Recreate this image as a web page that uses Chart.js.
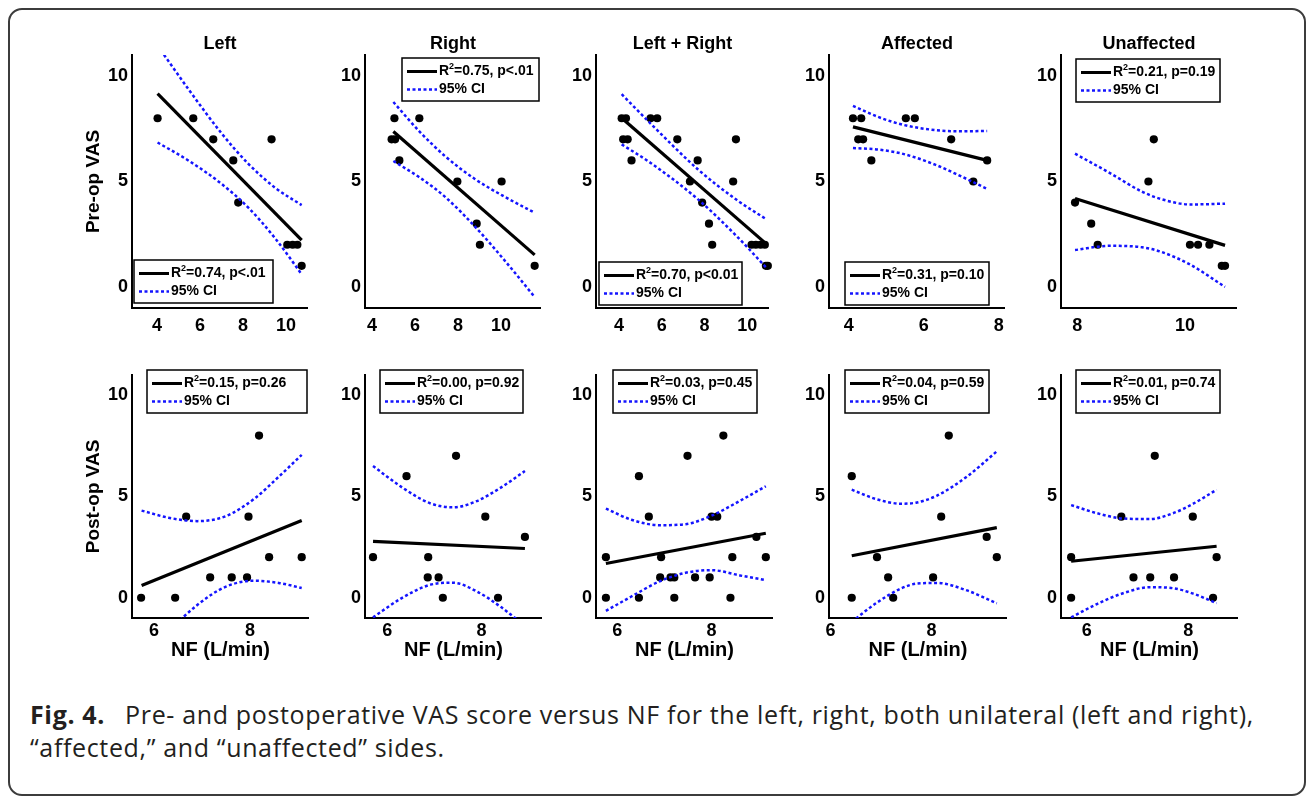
<!DOCTYPE html>
<html>
<head>
<meta charset="utf-8">
<title>Fig. 4 - VAS versus NF</title>
<script src="https://cdn.jsdelivr.net/npm/chart.js@4.4.1/dist/chart.umd.min.js"></script>
<style>
  html, body { margin: 0; padding: 0; background: #fff; }
  body { position: relative; width: 1309px; height: 798px; overflow: hidden; }
  .frame {
    position: absolute; left: 8px; top: 8px; width: 1298px; height: 788px;
    border: 2px solid #3c3c3c; border-radius: 14px; box-sizing: border-box;
  }
  canvas { position: absolute; }
  .caption {
    position: absolute; left: 30px; top: 698px; margin: 0;
    font-family: "Open Sans", "Noto Sans", sans-serif; font-size: 25px; line-height: 33px;
    letter-spacing: 0.65px; color: #231f20; white-space: nowrap;
  }
  .caption b { font-weight: 700; margin-right: 20px; }
</style>
</head>
<body>
<div class="frame"></div>
<div id="panels"></div>
<p class="caption"><b>Fig. 4.</b>Pre- and postoperative VAS score versus NF for the left, right, both unilateral (left and right),<br>“affected,” and “unaffected” sides.</p>

<script>
// ---- data ----
const groups = ['Left', 'Right', 'Left + Right', 'Affected', 'Unaffected'];
const vasTicks = [0, 5, 10];
const vasRange = [-1, 11];

// pre-op
const preLeftNF = [4.03, 5.69, 6.62, 7.55, 7.78, 9.33, 10.06, 10.31, 10.53, 10.73];
const preLeftVAS = [8, 8, 7, 6, 4, 7, 2, 2, 2, 1];
const preLeftCurveNF = [4.03, 5.5, 7, 8.25, 9.5, 10.73];
const preLeftFit = [9.17, 2.22];
const preLeftCiHi = [11.44, 9.33, 7.29, 5.84, 4.70, 3.88];
const preLeftCiLo = [6.85, 5.97, 4.89, 3.76, 2.30, 0.60];

const preRightNF = [5.04, 6.20, 4.91, 5.07, 5.27, 7.97, 10.03, 8.87, 9.02, 11.57];
const preRightVAS = [8, 8, 7, 7, 6, 5, 5, 3, 2, 1];
const preRightCurveNF = [4.99, 6.2, 7.4, 8.8, 10.2, 11.57];
const preRightFit = [7.37, 1.52];
const preRightCiHi = [8.77, 7.38, 6.20, 5.11, 4.26, 3.52];
const preRightCiLo = [5.97, 5.20, 4.27, 2.85, 1.22, -0.48];

const preBothNF = [4.13, 4.33, 4.20, 4.41, 4.59, 5.48, 5.79, 6.73, 7.32, 7.68, 7.89, 8.21, 8.36, 9.34, 9.47, 10.20, 10.40, 10.62, 10.82, 10.87, 10.96];
const preBothVAS = [8, 8, 7, 7, 6, 8, 8, 7, 5, 6, 4, 3, 2, 5, 7, 2, 2, 2, 2, 1, 1];
const preBothCurveNF = [4.13, 5.5, 7.7, 9.5, 10.9];
const preBothFit = [8.01, 2.03];
const preBothCiHi = [9.14, 7.73, 5.57, 4.13, 3.20];
const preBothCiLo = [6.76, 5.87, 4.15, 2.41, 0.90];

const preAffNF = [4.11, 4.33, 4.25, 4.38, 4.60, 5.52, 5.76, 6.73, 7.32, 7.69];
const preAffVAS = [8, 8, 7, 7, 6, 8, 8, 7, 5, 6];
const preAffCurveNF = [4.11, 4.8, 5.47, 6.3, 7.0, 7.69];
const preAffFit = [7.59, 6.0];
const preAffCiHi = [8.59, 8.05, 7.68, 7.44, 7.38, 7.40];
const preAffCiLo = [6.59, 6.51, 6.30, 5.80, 5.24, 4.65];

const preUnaffNF = [7.96, 8.26, 8.38, 9.32, 9.42, 10.09, 10.24, 10.45, 10.68, 10.74];
const preUnaffVAS = [4, 3, 2, 5, 7, 2, 2, 2, 1, 1];
const preUnaffCurveNF = [7.96, 8.6, 9.2, 9.55, 10.1, 10.74];
const preUnaffFit = [4.19, 1.97];
const preUnaffCiHi = [6.32, 5.41, 4.52, 4.17, 3.91, 3.95];
const preUnaffCiLo = [1.75, 1.95, 1.88, 1.67, 1.05, 0.0];

const preNfTicks = [[4, 6, 8, 10], [4, 6, 8, 10], [4, 6, 8, 10], [4, 6, 8], [8, 10]];
const preNfRange = [[2.84, 11.02], [3.67, 11.86], [2.93, 11.01], [3.47, 8.16], [7.70, 10.96]];
const preR2 = ['0.74', '0.75', '0.70', '0.31', '0.21'];
const preP = ['p<.01', 'p<.01', 'p<0.01', 'p=0.10', 'p=0.19'];

// post-op
const postLeftNF = [5.73, 6.44, 6.67, 7.17, 7.62, 7.94, 7.97, 8.19, 8.40, 9.08];
const postLeftVAS = [0, 0, 4, 1, 1, 1, 4, 8, 2, 2];
const postLeftCurveNF = [5.74, 6.3, 6.9, 7.5, 8.1, 8.6, 9.08];
const postLeftFit = [0.60, 3.81];
const postLeftCiHi = [4.30, 3.95, 3.78, 4.03, 4.90, 5.97, 7.05];
const postLeftCiLo = [-3.06, -1.67, -0.36, 0.55, 0.84, 0.73, 0.48];

const postRightNF = [5.70, 6.41, 6.87, 6.86, 7.09, 7.18, 7.46, 8.08, 8.35, 8.92];
const postRightVAS = [2, 6, 2, 1, 1, 0, 7, 4, 0, 3];
const postRightCurveNF = [5.7, 6.3, 6.9, 7.4, 7.9, 8.4, 8.92];
const postRightFit = [2.78, 2.43];
const postRightCiHi = [6.50, 5.47, 4.67, 4.46, 4.77, 5.42, 6.25];
const postRightCiLo = [-0.97, -0.03, 0.63, 0.74, 0.31, -0.44, -1.39];

const postBothNF = [5.76, 5.76, 6.46, 6.46, 6.67, 6.93, 6.91, 7.13, 7.21, 7.21, 7.49, 7.65, 7.96, 8.00, 8.12, 8.25, 8.40, 8.44, 8.95, 9.15];
const postBothVAS = [2, 0, 6, 0, 4, 2, 1, 1, 1, 0, 7, 1, 1, 4, 4, 8, 0, 2, 3, 2];
const postBothCurveNF = [5.76, 6.3, 6.9, 7.45, 8.0, 8.6, 9.15];
const postBothFit = [1.69, 3.18];
const postBothCiHi = [4.40, 3.85, 3.58, 3.63, 4.05, 4.78, 5.50];
const postBothCiLo = [-0.65, 0.06, 0.81, 1.23, 1.36, 1.10, 0.87];

const postAffNF = [6.42, 6.42, 6.92, 7.14, 7.24, 8.03, 8.19, 8.34, 9.09, 9.29];
const postAffVAS = [6, 0, 2, 1, 0, 1, 4, 8, 3, 2];
const postAffCurveNF = [6.42, 6.9, 7.4, 7.71, 8.1, 8.7, 9.29];
const postAffFit = [2.07, 3.46];
const postAffCiHi = [5.33, 4.87, 4.64, 4.70, 5.03, 5.98, 7.22];
const postAffCiLo = [-1.19, -0.27, 0.46, 0.70, 0.73, 0.36, -0.28];

const postUnaffNF = [5.69, 5.69, 6.68, 6.92, 7.25, 7.34, 7.72, 8.09, 8.49, 8.56];
const postUnaffVAS = [2, 0, 4, 1, 1, 7, 1, 4, 0, 2];
const postUnaffCurveNF = [5.69, 6.2, 6.7, 7.24, 7.7, 8.1, 8.56];
const postUnaffFit = [1.80, 2.54];
const postUnaffCiHi = [4.57, 4.17, 3.91, 3.88, 4.17, 4.64, 5.33];
const postUnaffCiLo = [-0.97, -0.31, 0.21, 0.52, 0.47, 0.20, -0.27];

const postNfTicks = [[6, 8], [6, 8], [6, 8], [6, 8], [6, 8]];
const postNfRange = [[5.54, 9.23], [5.53, 9.28], [5.55, 9.30], [5.97, 9.49], [5.49, 8.98]];
const postR2 = ['0.15', '0.00', '0.03', '0.04', '0.01'];
const postP = ['p=0.26', 'p=0.92', 'p=0.45', 'p=0.59', 'p=0.74'];

// ---- layout (page pixels) ----
const FONT = '"Liberation Sans", Arial, Helvetica, sans-serif';
const CI_BLUE = '#1414ff';
const colLeft = [132, 365, 596, 829, 1061];
const rowLayout = [
  { top: 20, height: 325, padTop: 0, right: [308, 541, 769, 1007, 1237], xAxisH: 37, tickPad: 7,
    legend: [[134, 260, 139], [402, 58, 137], [599, 262, 143], [845, 262, 144], [1076, 59, 144]] },
  { top: 360, height: 305, padTop: 6, right: [309, 542, 773, 1007, 1238], xAxisH: 45, tickPad: 2,
    legend: [[147, 370, 160], [380, 370, 143], [613, 370, 144], [845, 370, 144], [1076, 370, 144]] }
];

const rows = [
  {
    yTitle: 'Pre-op VAS', ticks: preNfTicks, range: preNfRange, r2: preR2, p: preP,
    panels: [
      { nf: preLeftNF, vas: preLeftVAS, curve: preLeftCurveNF, fit: preLeftFit, hi: preLeftCiHi, lo: preLeftCiLo },
      { nf: preRightNF, vas: preRightVAS, curve: preRightCurveNF, fit: preRightFit, hi: preRightCiHi, lo: preRightCiLo },
      { nf: preBothNF, vas: preBothVAS, curve: preBothCurveNF, fit: preBothFit, hi: preBothCiHi, lo: preBothCiLo },
      { nf: preAffNF, vas: preAffVAS, curve: preAffCurveNF, fit: preAffFit, hi: preAffCiHi, lo: preAffCiLo },
      { nf: preUnaffNF, vas: preUnaffVAS, curve: preUnaffCurveNF, fit: preUnaffFit, hi: preUnaffCiHi, lo: preUnaffCiLo }
    ]
  },
  {
    yTitle: 'Post-op VAS', ticks: postNfTicks, range: postNfRange, r2: postR2, p: postP,
    panels: [
      { nf: postLeftNF, vas: postLeftVAS, curve: postLeftCurveNF, fit: postLeftFit, hi: postLeftCiHi, lo: postLeftCiLo },
      { nf: postRightNF, vas: postRightVAS, curve: postRightCurveNF, fit: postRightFit, hi: postRightCiHi, lo: postRightCiLo },
      { nf: postBothNF, vas: postBothVAS, curve: postBothCurveNF, fit: postBothFit, hi: postBothCiHi, lo: postBothCiLo },
      { nf: postAffNF, vas: postAffVAS, curve: postAffCurveNF, fit: postAffFit, hi: postAffCiHi, lo: postAffCiLo },
      { nf: postUnaffNF, vas: postUnaffVAS, curve: postUnaffCurveNF, fit: postUnaffFit, hi: postUnaffCiHi, lo: postUnaffCiLo }
    ]
  }
];

Chart.defaults.font.family = FONT;
Chart.defaults.color = '#000';

// MATLAB-style legend box with R^2 and CI entries
const statBox = {
  id: 'statBox',
  afterDatasetsDraw(chart, args, opts) {
    const ctx = chart.ctx;
    const { x, y, w, h, r2, p } = opts;
    const y1 = y + 13.5, y2 = y + 31.5;
    ctx.save();
    ctx.fillStyle = '#fff';
    ctx.fillRect(x, y, w, h);
    ctx.strokeStyle = '#000';
    ctx.lineWidth = 1.5;
    ctx.strokeRect(x, y, w, h);

    ctx.lineWidth = 3;
    ctx.beginPath(); ctx.moveTo(x + 5, y1); ctx.lineTo(x + 35, y1); ctx.stroke();
    ctx.strokeStyle = CI_BLUE;
    ctx.lineWidth = 2.5;
    ctx.setLineDash([3, 2.5]);
    ctx.beginPath(); ctx.moveTo(x + 5, y2); ctx.lineTo(x + 35, y2); ctx.stroke();
    ctx.setLineDash([]);

    ctx.fillStyle = '#000';
    ctx.textBaseline = 'middle';
    ctx.font = 'bold 14px ' + FONT;
    let tx = x + 37;
    ctx.fillText('R', tx, y1);
    tx += ctx.measureText('R').width;
    ctx.font = 'bold 9px ' + FONT;
    ctx.fillText('2', tx, y1 - 5);
    tx += ctx.measureText('2').width;
    ctx.font = 'bold 14px ' + FONT;
    ctx.fillText('=' + r2 + ', ' + p, tx, y1);
    ctx.fillText('95% CI', x + 37, y2);
    ctx.restore();
  }
};

const holder = document.getElementById('panels');

rows.forEach((row, r) => {
  const lay = rowLayout[r];
  row.panels.forEach((d, c) => {
    const yW = c === 0 ? 50 : 40;
    const left = colLeft[c] - yW;
    const width = lay.right[c] + 4 - left;
    const canvas = document.createElement('canvas');
    canvas.width = width;
    canvas.height = lay.height;
    canvas.style.left = left + 'px';
    canvas.style.top = lay.top + 'px';
    holder.appendChild(canvas);

    const ends = [d.curve[0], d.curve[d.curve.length - 1]];
    const curveStyle = {
      showLine: true, pointRadius: 0, borderColor: CI_BLUE, borderWidth: 2.5,
      borderDash: [3, 2.5], cubicInterpolationMode: 'monotone', fill: false
    };
    const [lx, ly, lw] = lay.legend[c];

    new Chart(canvas, {
      type: 'scatter',
      data: {
        datasets: [
          { ...curveStyle, label: '95% CI', data: d.curve.map((x, i) => ({ x, y: d.lo[i] })) },
          { ...curveStyle, label: '95% CI upper', data: d.curve.map((x, i) => ({ x, y: d.hi[i] })) },
          {
            label: 'fit', showLine: true, pointRadius: 0, borderColor: '#000', borderWidth: 3.2,
            data: ends.map((x, i) => ({ x, y: d.fit[i] }))
          },
          {
            label: 'patients', pointRadius: 4.1, pointBackgroundColor: '#000', pointBorderWidth: 0,
            clip: 6, data: d.nf.map((x, i) => ({ x, y: d.vas[i] }))
          }
        ]
      },
      options: {
        responsive: false,
        animation: false,
        events: [],
        layout: { padding: { top: lay.padTop, right: 4, bottom: r === 0 ? 0 : 2, left: 0 } },
        plugins: {
          legend: { display: false },
          tooltip: { enabled: false },
          title: {
            display: r === 0, text: groups[c], fullSize: false, color: '#000',
            font: { size: 18, weight: 'bold' }, padding: { top: 13.4, bottom: 0 }
          },
          statBox: { x: lx - left, y: ly - lay.top, w: lw, h: 43, r2: row.r2[c], p: row.p[c] }
        },
        scales: {
          x: {
            type: 'linear', position: 'bottom',
            min: row.range[c][0], max: row.range[c][1],
            afterBuildTicks: s => { s.ticks = row.ticks[c].map(v => ({ value: v })); },
            afterFit: s => { s.height = lay.xAxisH; },
            grid: { display: false, drawTicks: false },
            border: { display: true, color: '#000', width: 2 },
            ticks: { color: '#000', padding: lay.tickPad, font: { size: 18, weight: 'bold' } },
            title: {
              display: r === 1, text: 'NF (L/min)', color: '#000',
              font: { size: 20, weight: 'bold' }, padding: { top: 0, bottom: 1 }
            }
          },
          y: {
            type: 'linear', position: 'left',
            min: vasRange[0], max: vasRange[1],
            afterBuildTicks: s => { s.ticks = vasTicks.map(v => ({ value: v })); },
            afterFit: s => { s.width = yW; },
            grid: { display: false, drawTicks: false },
            border: { display: true, color: '#000', width: 2 },
            ticks: { color: '#000', padding: 4, font: { size: 18, weight: 'bold' } },
            title: {
              display: c === 0, text: row.yTitle, color: '#000',
              font: { size: 19, weight: 'bold' }, padding: 0
            }
          }
        }
      },
      plugins: [statBox]
    });
  });
});
</script>
</body>
</html>
